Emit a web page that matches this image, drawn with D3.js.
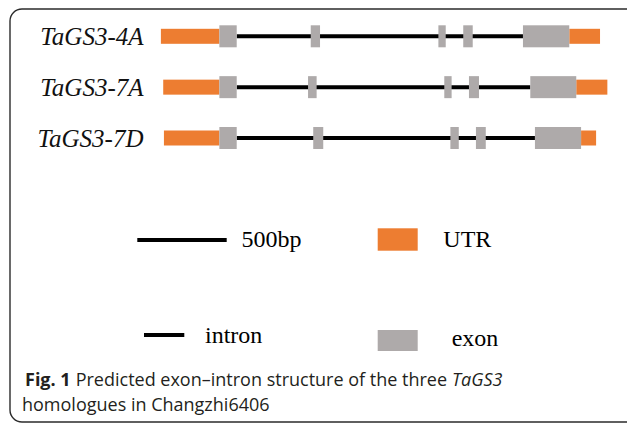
<!DOCTYPE html>
<html>
<head>
<meta charset="utf-8">
<script src="https://cdn.jsdelivr.net/npm/d3@7"></script>
<style>
  body { margin: 0; background: #fff; }
  svg { display: block; }
</style>
</head>
<body>
<svg id="chart" width="627" height="426"></svg>
<script>
// gene names, top to bottom
var genes = ["TaGS3-4A", "TaGS3-7A", "TaGS3-7D"];

// positions in bp from a common origin
var utr5 = [[5, 332], [18, 332], [22, 332]];
var utr3 = [[2289, 2461], [2328, 2502], [2355, 2439]];
var exons = [
  [[332, 429], [843, 895], [1557, 1598], [1696, 1749], [2030, 2289]],
  [[332, 429], [828, 876], [1590, 1631], [1728, 1784], [2071, 2328]],
  [[332, 429], [857, 913], [1624, 1671], [1767, 1822], [2097, 2355]]
];
var scaleBp = 500;

var orange = "#ed7d31", grey = "#aeaaaa";

var svg = d3.select("#chart");

var x = d3.scaleLinear().domain([0, 2500]).range([160, 607]);
var y = d3.scalePoint().domain(genes).range([36.3, 138]);

var exonH = 22, utrH = 15;

// frame
svg.append("rect")
  .attr("x", 10).attr("y", 9)
  .attr("width", 630).attr("height", 413)
  .attr("rx", 12)
  .attr("fill", "none")
  .attr("stroke", "#2b2b2b")
  .attr("stroke-width", 1.4);

var rows = svg.selectAll("g.gene")
  .data(genes)
  .enter()
  .append("g")
  .attr("class", "gene");

rows.append("text")
  .attr("x", 143.5)
  .attr("y", function(d) { return y(d) + 8.5; })
  .attr("text-anchor", "end")
  .attr("font-family", "Liberation Serif, Times New Roman, serif")
  .attr("font-style", "italic")
  .attr("font-size", 25)
  .attr("fill", "#111")
  .text(function(d) { return d; });

// intron line
rows.append("line")
  .attr("x1", function(d, i) { return x(exons[i][0][1]); })
  .attr("x2", function(d, i) { return x(exons[i][exons[i].length - 1][0]); })
  .attr("y1", function(d) { return y(d); })
  .attr("y2", function(d) { return y(d); })
  .attr("stroke", "#000")
  .attr("stroke-width", 4);

rows.append("rect")
  .attr("x", function(d, i) { return x(utr5[i][0]); })
  .attr("width", function(d, i) { return x(utr5[i][1]) - x(utr5[i][0]); })
  .attr("y", function(d) { return y(d) - utrH / 2; })
  .attr("height", utrH)
  .attr("fill", orange);

rows.append("rect")
  .attr("x", function(d, i) { return x(utr3[i][0]); })
  .attr("width", function(d, i) { return x(utr3[i][1]) - x(utr3[i][0]); })
  .attr("y", function(d) { return y(d) - utrH / 2; })
  .attr("height", utrH)
  .attr("fill", orange);

rows.each(function(g, i) {
  d3.select(this).selectAll("rect.exon")
    .data(exons[i])
    .enter()
    .append("rect")
    .attr("class", "exon")
    .attr("x", function(e) { return x(e[0]); })
    .attr("width", function(e) { return x(e[1]) - x(e[0]); })
    .attr("y", y(g) - exonH / 2)
    .attr("height", exonH)
    .attr("fill", grey);
});

// legend
var serif = "Liberation Serif, Times New Roman, serif";

svg.append("line")
  .attr("x1", 137.3).attr("x2", 137.3 + x(scaleBp) - x(0))
  .attr("y1", 240).attr("y2", 240)
  .attr("stroke", "#000").attr("stroke-width", 4);
svg.append("text").attr("x", 241.5).attr("y", 247)
  .attr("font-family", serif).attr("font-size", 24)
  .text(scaleBp + "bp");

svg.append("rect").attr("x", 377.7).attr("y", 228.3)
  .attr("width", 40).attr("height", 22.4).attr("fill", orange);
svg.append("text").attr("x", 443.3).attr("y", 247)
  .attr("font-family", serif).attr("font-size", 24)
  .text("UTR");

svg.append("line")
  .attr("x1", 144).attr("x2", 184.3)
  .attr("y1", 335).attr("y2", 335)
  .attr("stroke", "#000").attr("stroke-width", 4);
svg.append("text").attr("x", 205).attr("y", 343)
  .attr("font-family", serif).attr("font-size", 24)
  .text("intron");

svg.append("rect").attr("x", 377.7).attr("y", 330)
  .attr("width", 40).attr("height", 21).attr("fill", grey);
svg.append("text").attr("x", 451.7).attr("y", 346)
  .attr("font-family", serif).attr("font-size", 24)
  .text("exon");

// caption: first line is made of three runs, placed one after the other
var capFont = "Open Sans, Noto Sans, sans-serif";
var runs = [
  { t: "Fig. 1", weight: "bold", style: "normal" },
  { t: "Predicted exon\u2013intron structure of the three", weight: "normal", style: "normal" },
  { t: "TaGS3", weight: "normal", style: "italic" }
];
var cx = 25;
runs.forEach(function(r) {
  var t = svg.append("text")
    .attr("x", cx).attr("y", 385.5)
    .attr("font-family", capFont).attr("font-size", 18)
    .attr("font-weight", r.weight).attr("font-style", r.style)
    .attr("fill", "#231f20")
    .text(r.t);
  cx += t.node().getComputedTextLength() + 5;
});

svg.append("text")
  .attr("x", 22).attr("y", 410.5)
  .attr("font-family", capFont).attr("font-size", 18)
  .attr("fill", "#231f20")
  .text("homologues in Changzhi6406");
</script>
</body>
</html>
